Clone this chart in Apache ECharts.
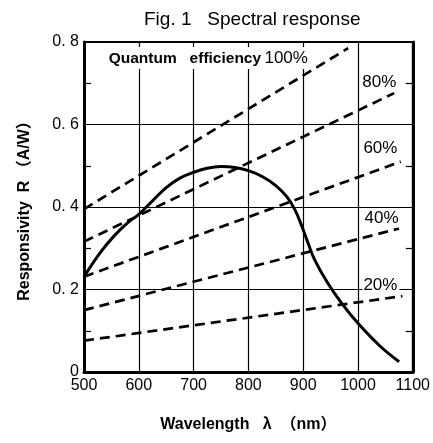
<!DOCTYPE html>
<html>
<head>
<meta charset="utf-8">
<script src="https://cdn.jsdelivr.net/npm/echarts@6/dist/echarts.min.js"></script>
<style>html,body{margin:0;padding:0;background:#fff;}#c{width:433px;height:443px;}</style>
</head>
<body>
<div id="c"></div>
<script>
// ---- data ----
const xTicks = [500, 600, 700, 800, 900, 1000, 1100];
const xTickLabels = ['500', '600', '700', '800', '900', '1000', '1100'];
const yTicks = [0, 0.2, 0.4, 0.6, 0.8];
const yTickLabels = ['0', '0. 2', '0. 4', '0. 6', '0. 8'];

// spectral responsivity curve (nm, A/W)
const respWavelength = [500, 530, 555, 580, 600, 625, 650, 675, 700, 725, 750, 775, 800, 825, 850, 870, 885, 897, 909, 921, 945, 970, 1000, 1040, 1075];
const respValue      = [0.231, 0.29, 0.33, 0.362, 0.382, 0.415, 0.447, 0.47, 0.484, 0.494, 0.498, 0.496, 0.488, 0.474, 0.452, 0.425, 0.393, 0.355, 0.312, 0.272, 0.215, 0.167, 0.118, 0.063, 0.025];

// quantum-efficiency reference lines (start / end points)
const qeNames = ['100%', '80%', '60%', '40%', '20%'];
const qe100 = [[500, 0.395], [982, 0.785]];
const qe80  = [[500, 0.316], [1066, 0.676]];
const qe60  = [[500, 0.231], [1078, 0.51]];
const qe40  = [[500, 0.150], [1075, 0.348]];
const qe20  = [[500, 0.076], [1081, 0.184]];
const qeLines = [qe100, qe80, qe60, qe40, qe20];
// label anchors (nm, A/W)
const qeLabelAt = [[545, 0.761], [1006, 0.703], [1008, 0.542], [1010, 0.373], [1008, 0.211]];

const FONT = '"Liberation Sans", Arial, "Noto Sans CJK JP", sans-serif';
const chart = echarts.init(document.getElementById('c'), null, {renderer: 'canvas'});

const qeSeries = qeLines.map((pts, i) => {
  const isTop = i === 0;
  return {
    type: 'line',
    data: pts,
    symbol: 'none',
    silent: true,
    z: 3,
    lineStyle: {color: '#000', width: 2.7, type: [10, 6]},
    markPoint: {
      symbol: 'circle', symbolSize: 0, silent: true,
      data: [{coord: qeLabelAt[i]}],
      label: isTop ? {
        show: true, position: 'right', distance: 0,
        formatter: '{a|Quantum   efficiency} {b|' + qeNames[i] + '}',
        backgroundColor: '#fff', padding: [3, 4, 2, 0],
        rich: {
          a: {fontFamily: FONT, fontSize: 15.5, fontWeight: 'bold', color: '#000'},
          b: {fontFamily: FONT, fontSize: 17, color: '#000'}
        }
      } : {
        show: true, position: 'right', distance: 0,
        formatter: qeNames[i],
        fontFamily: FONT, fontSize: 17, color: '#000',
        backgroundColor: '#fff', padding: [1, 2, 0, 1]
      }
    }
  };
});

chart.setOption({
  animation: false,
  backgroundColor: '#fff',
  title: {
    text: 'Fig. 1   Spectral response',
    left: 139, top: 5,
    textStyle: {fontFamily: FONT, fontSize: 19, fontWeight: 'normal', color: '#000'}
  },
  grid: {left: 84, right: 18, top: 42, bottom: 71, show: true, borderColor: '#000', borderWidth: 2, backgroundColor: 'transparent'},
  xAxis: [{
    type: 'value', min: 500, max: 1100, interval: 100,
    name: 'Wavelength   λ  （nm）', nameLocation: 'middle', nameGap: 45,
    nameTextStyle: {fontFamily: FONT, fontSize: 16, fontWeight: 'bold', color: '#000'},
    axisLine: {show: true, lineStyle: {color: '#000', width: 3}},
    axisTick: {show: false, inside: true},
    axisLabel: {
      margin: 6, fontFamily: FONT, fontSize: 16, color: '#000',
      formatter: v => { const k = xTicks.indexOf(Math.round(v)); return k >= 0 ? xTickLabels[k] : ''; }
    },
    splitLine: {show: true, lineStyle: {color: '#000', width: 1.2}}
  }, {
    type: 'value', min: 500, max: 1100, interval: 100, position: 'top',
    axisLine: {show: true, lineStyle: {color: '#000', width: 2}},
    axisTick: {show: false}, axisLabel: {show: false}, splitLine: {show: false}
  }],
  yAxis: [{
    type: 'value', min: 0, max: 0.8, interval: 0.2,
    name: 'Responsivity  R （A/W）', nameLocation: 'middle', nameGap: 51, nameRotate: 90,
    nameTextStyle: {fontFamily: FONT, fontSize: 16, fontWeight: 'bold', color: '#000'},
    axisLine: {show: true, lineStyle: {color: '#000', width: 3}},
    axisTick: {show: false, inside: true},
    minorTick: {show: true, splitNumber: 2, length: 7, lineStyle: {color: '#000', width: 1.2}},
    axisLabel: {
      margin: 5, fontFamily: FONT, fontSize: 16, color: '#000',
      formatter: v => { const k = yTicks.findIndex(t => Math.abs(t - v) < 1e-6); return k >= 0 ? yTickLabels[k] : ''; }
    },
    splitLine: {show: true, lineStyle: {color: '#000', width: 1.2}}
  }, {
    type: 'value', min: 0, max: 0.8, interval: 0.2, position: 'right',
    axisLine: {show: true, lineStyle: {color: '#000', width: 3}},
    axisTick: {show: false, inside: true},
    minorTick: {show: true, splitNumber: 2, length: 7, lineStyle: {color: '#000', width: 1.2}},
    axisLabel: {show: false}, splitLine: {show: false}
  }],
  series: [
    ...qeSeries,
    {
      type: 'line',
      data: respWavelength.map((w, i) => [w, respValue[i]]),
      symbol: 'none', smooth: 0.4, silent: true, z: 4,
      lineStyle: {color: '#000', width: 3}
    }
  ]
});
</script>
</body>
</html>
